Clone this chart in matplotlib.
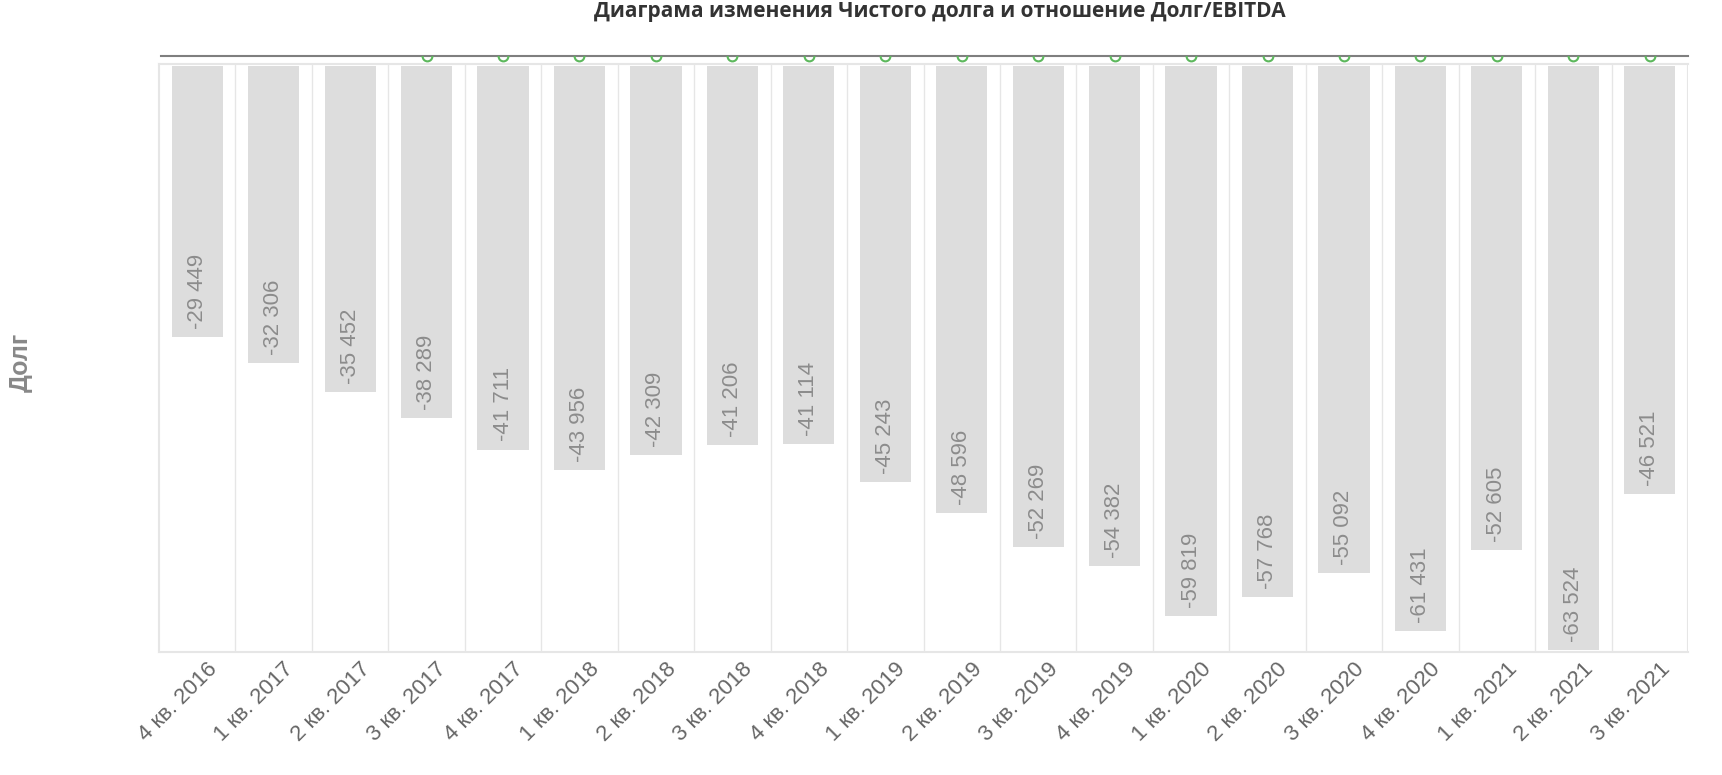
import numpy as np
import matplotlib
matplotlib.use('Agg')
import matplotlib.pyplot as plt
from matplotlib.transforms import ScaledTranslation

plt.rcParams['font.family'] = ['Liberation Sans', 'DejaVu Sans']

#quarters and net debt values
quarters = ['4 кв. 2016', '1 кв. 2017', '2 кв. 2017', '3 кв. 2017', '4 кв. 2017',
            '1 кв. 2018', '2 кв. 2018', '3 кв. 2018', '4 кв. 2018', '1 кв. 2019',
            '2 кв. 2019', '3 кв. 2019', '4 кв. 2019', '1 кв. 2020', '2 кв. 2020',
            '3 кв. 2020', '4 кв. 2020', '1 кв. 2021', '2 кв. 2021', '3 кв. 2021']
net_debt = [-29449, -32306, -35452, -38289, -41711,
            -43956, -42309, -41206, -41114, -45243,
            -48596, -52269, -54382, -59819, -57768,
            -55092, -61431, -52605, -63524, -46521]
#quarters where Debt/EBITDA marker is shown (values sit above the visible area)
ratio_quarters = quarters[3:]

W, H = 1722, 775
fig = plt.figure(figsize=(W/100, H/100), dpi=100)
left, right = 159/W, 1688/W
bottom, top = (H-652)/H, (H-64)/H
ax = fig.add_axes([left, bottom, right-left, top-bottom])

x = np.arange(len(quarters))
bars = ax.bar(x, net_debt, width=0.67, color='#dddddd', zorder=2)
ax.set_xlim(-0.5, len(quarters)-0.5)
ax.set_ylim(-63700, 200)

#category boundary grid
for b in np.arange(0.5, len(quarters)-0.5, 1):
    ax.axvline(b, color='#e6e6e6', lw=1, zorder=1)

for sp in ['top', 'right']:
    ax.spines[sp].set_visible(False)
ax.spines['left'].set_color('#e6e6e6')
ax.spines['left'].set_linewidth(1.5)
ax.spines['bottom'].set_color('#e6e6e6')
ax.spines['bottom'].set_linewidth(1.5)
ax.axvline(len(quarters)-0.5, color='#e6e6e6', lw=1.5)
ax.axhline(200, color='#e6e6e6', lw=1.5, clip_on=False)

ax.set_yticks([])
ax.set_xticks(x)
ax.set_xticklabels(quarters, rotation=45, ha='right', va='center',
                   rotation_mode='anchor', fontsize=16, color='#666666')
ax.tick_params(axis='x', length=0, pad=10)
shift = ScaledTranslation(17/100, 0, fig.dpi_scale_trans)
for lab in ax.get_xticklabels():
    lab.set_transform(lab.get_transform() + shift)

#value labels inside the bars
for xi, v in zip(x, net_debt):
    s = '{:,}'.format(v).replace(',', ' ')
    ax.text(xi, v + 900, s, rotation=90, ha='center', va='bottom',
            fontsize=16, color='#8c8c8c', zorder=3)

#Debt/EBITDA strip at the top
ax2 = fig.add_axes([left, top, right-left, (H-56)/H - top])
ax2.set_xlim(-0.5, len(quarters)-0.5)
ax2.set_ylim(0, 1)
ax2.axis('off')
ax2.axhline(1, color='#7f7f7f', lw=1.5, clip_on=False, xmin=0.001)
rx = [quarters.index(q) for q in ratio_quarters]
ax2.plot(rx, [1]*len(rx), 'o', ms=7, mfc='none', mec='#5cb85c', mew=1.5, clip_on=True)

fig.text(0.012, 0.533, 'Долг', rotation=90, ha='center', va='center',
         fontsize=18, fontweight='bold', color='#888888')
fig.text(0.546, 0.999, 'Диаграма изменения Чистого долга и отношение Долг/EBITDA',
         ha='center', va='top', fontsize=15, fontweight='bold', color='#333333',
         family=['Open Sans', 'DejaVu Sans'])

plt.savefig('out.png', dpi=100)
